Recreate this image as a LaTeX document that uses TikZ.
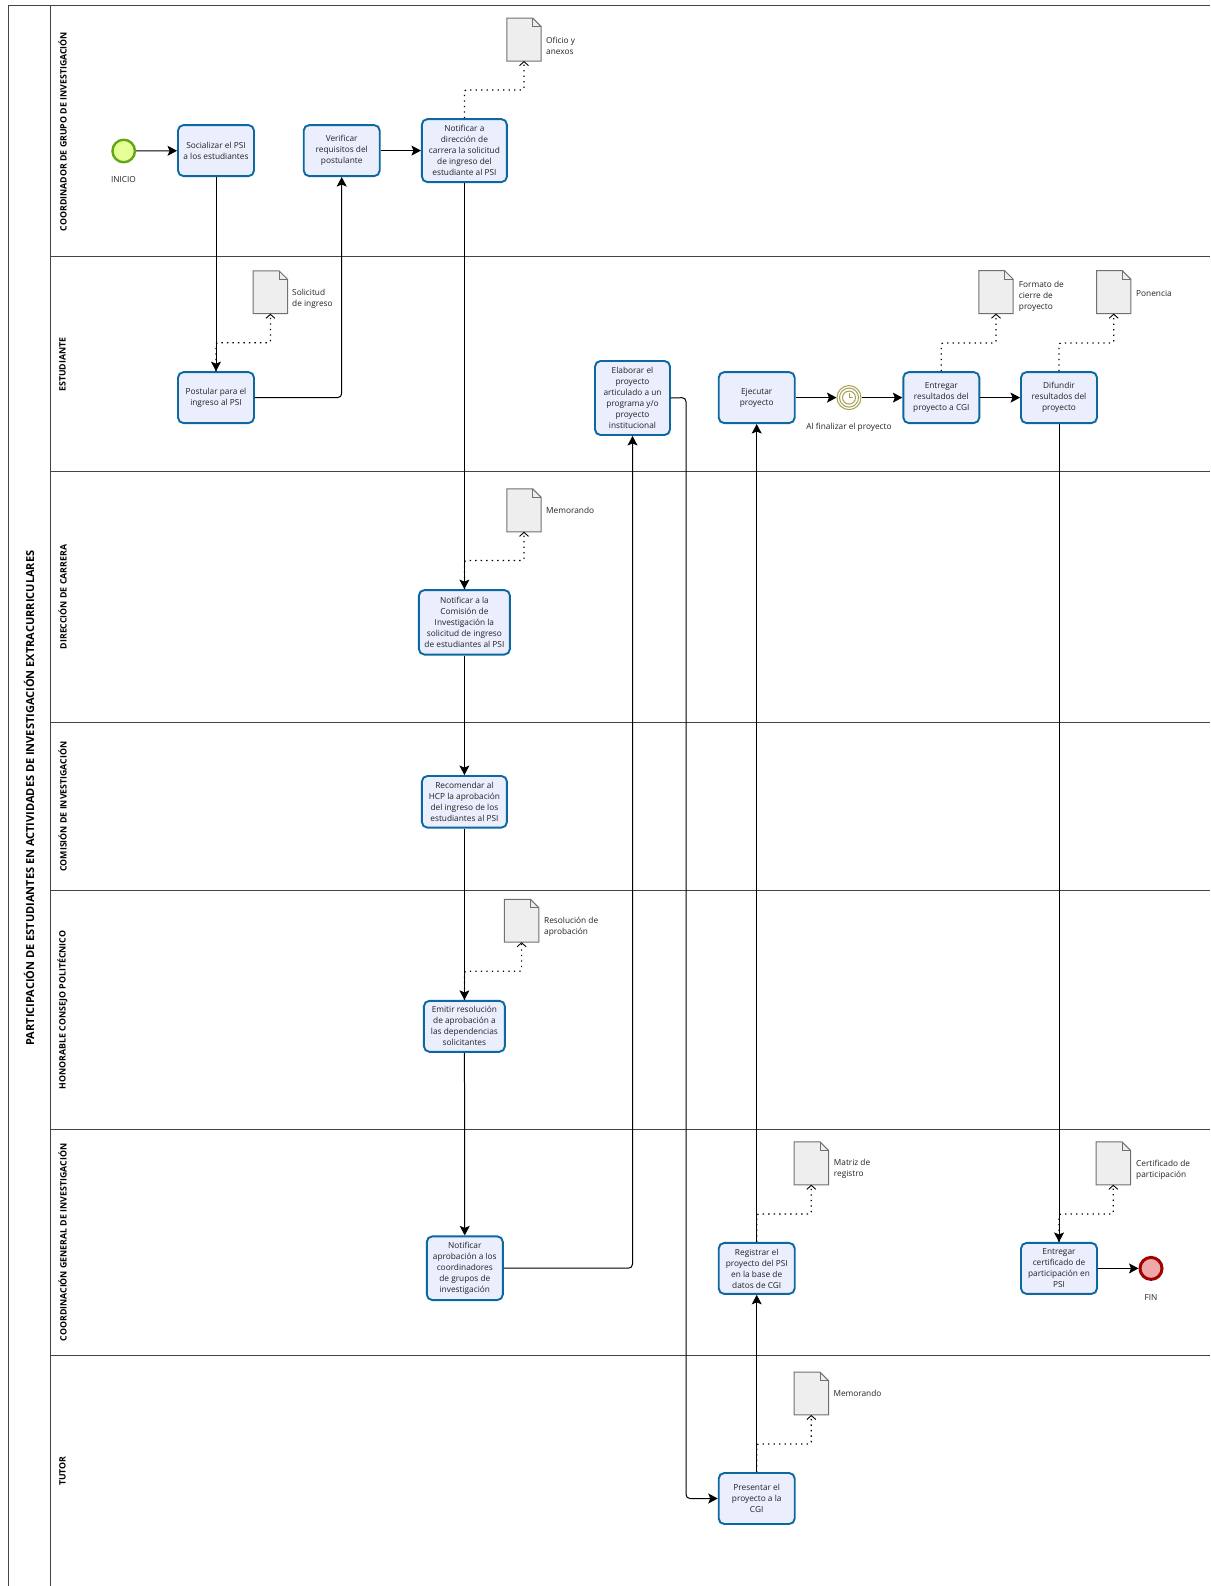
\documentclass[tikz,border=0pt]{standalone}
\usepackage{fontspec}
\setmainfont{Open Sans}
\usetikzlibrary{arrows.meta,calc}
\definecolor{taskfill}{HTML}{EAEEFD}
\definecolor{taskline}{HTML}{0B68A0}
\definecolor{lanegrey}{HTML}{444444}
\definecolor{docfill}{HTML}{EEEEEE}
\definecolor{docline}{HTML}{707070}
\definecolor{txt}{HTML}{222222}
\definecolor{timerline}{HTML}{A79F52}
\tikzset{
  task/.style={draw=taskline,fill=taskfill,line width=1.9pt,rounded corners=5.5pt,inner sep=0pt,align=center,font=\fontsize{8.3}{11}\selectfont,text=txt},
  std/.style={task,minimum width=76,minimum height=51,execute at begin node={\vspace*{1.4pt}}},
  lab/.style={inner sep=0pt,align=left,anchor=west,font=\fontsize{8.3}{11}\selectfont,text=txt},
  caplab/.style={inner sep=0pt,align=center,font=\fontsize{8.3}{11}\selectfont,text=txt},
  lanelab/.style={inner sep=0pt,rotate=90,font=\bfseries\fontsize{8.8}{10}\selectfont,text=black},
  lane/.style={draw=lanegrey,line width=1pt},
  flow/.style={draw=black,line width=1pt,rounded corners=4pt,-{Stealth[length=9.5pt,width=10pt,inset=2pt]}},
  assoc/.style={draw=black,line width=1.2pt,rounded corners=2pt,dash pattern=on 1.3pt off 4.2pt,-{Straight Barb[length=4pt,width=9pt,line width=0.9pt]}},
  docnode/.style={minimum width=34,minimum height=42.5,inner sep=0pt},
}
\newcommand{\docbody}[1]{%
  \draw[draw=docline,fill=docfill,line width=1pt] (#1.south west) -- (#1.north west) -- ($(#1.north east)+(-8.5,0)$) -- ($(#1.north east)+(0,8.5)$) -- (#1.south east) -- cycle;
  \draw[draw=docline,line width=0.8pt] ($(#1.north east)+(-8.5,0)$) -- ($(#1.north east)+(-8.5,8.5)$) -- ($(#1.north east)+(0,8.5)$);}
\begin{document}
\begin{tikzpicture}[x=1pt,y=-1pt]
\useasboundingbox (0,0) rectangle (1210,1586);
% pool and lanes
\draw[lane] (1210,5.5) -- (8,5.5) -- (8,1586);
\draw[lane] (50.6,5.5) -- (50.6,1586);
\foreach \yy in {257,471,722.5,890.5,1129,1355.7} \draw[lane] (50.6,\yy) -- (1210,\yy);
\node[lanelab,font=\bfseries\fontsize{11}{13}\selectfont] (title) at (29,798) {PARTICIPACIÓN DE ESTUDIANTES EN ACTIVIDADES DE INVESTIGACIÓN EXTRACURRICULARES};
\node[lanelab] (l1) at (62.5,131.5) {COORDINADOR DE GRUPO DE INVESTIGACIÓN};
\node[lanelab] (l2) at (62.5,364.5) {ESTUDIANTE};
\node[lanelab] (l3) at (62.5,597) {DIRECCIÓN DE CARRERA};
\node[lanelab] (l4) at (62.5,806.5) {COMISIÓN DE INVESTIGACIÓN};
\node[lanelab] (l5) at (62.5,1010) {HONORABLE CONSEJO POLITÉCNICO};
\node[lanelab] (l6) at (62.5,1242.5) {COORDINACIÓN GENERAL DE INVESTIGACIÓN};
\node[lanelab] (l7) at (62.5,1471) {TUTOR};
% events
\node[circle,draw={rgb,255:red,98;green,167;blue,22},fill={rgb,255:red,230;green,255;blue,151},line width=2.4pt,minimum size=22.5,inner sep=0pt] (start) at (123.7,151) {};
\node[caplab] (startl) at (123.5,180) {INICIO};
\node[circle,draw={rgb,255:red,163;green,0;blue,0},fill={rgb,255:red,238;green,168;blue,168},line width=3pt,minimum size=22,inner sep=0pt] (fin) at (1151,1268.4) {};
\node[caplab] (finl) at (1151,1298) {FIN};
\node[circle,draw=timerline,fill=white,line width=1pt,minimum size=24,inner sep=0pt] (tim) at (849,397.6) {};
\draw[timerline,line width=1pt] (tim.center) circle (9.5);
\draw[timerline,line width=1pt] (tim.center) circle (6.5);
\draw[timerline,line width=0.9pt] ($(tim.center)+(0,-4.5)$) -- (tim.center) -- ($(tim.center)+(3.5,0)$);
\node[caplab] (timl) at (849,427) {Al finalizar el proyecto};
% tasks
\node[std] (soc) at (216,150.6) {Socializar el PSI\\a los estudiantes};
\node[std] (ver) at (341.7,150.6) {Verificar\\requisitos del\\postulante};
\node[task,minimum width=85,minimum height=63] (nota) at (464.4,150.6) {Notificar a\\dirección de\\carrera la solicitud\\de ingreso del\\estudiante al PSI};
\node[std] (pos) at (216,397.6) {Postular para el\\ingreso al PSI};
\node[task,minimum width=75,minimum height=74] (ela) at (632.5,398) {Elaborar el\\proyecto\\articulado a un\\programa y/o\\proyecto\\institucional};
\node[std] (eje) at (756.7,397.6) {Ejecutar\\proyecto};
\node[std] (ent) at (941.3,397.6) {Entregar\\resultados del\\proyecto a CGI};
\node[std] (dif) at (1059,397.6) {Difundir\\resultados del\\proyecto};
\node[task,minimum width=91,minimum height=64.5] (noc) at (464.4,622.3) {Notificar a la\\Comisión de\\Investigación la\\solicitud de ingreso\\de estudiantes al PSI};
\node[task,minimum width=85,minimum height=51.6] (rec) at (464.4,801.8) {Recomendar al\\HCP la aprobación\\del ingreso de los\\estudiantes al PSI};
\node[task,minimum width=81,minimum height=51] (emi) at (464.4,1026.3) {Emitir resolución\\de aprobación a\\las dependencias\\solicitantes};
\node[task,minimum width=76,minimum height=63.7] (nap) at (464.8,1268.2) {Notificar\\aprobación a los\\coordinadores\\de grupos de\\investigación};
\node[std] (reg) at (756.7,1268.4) {Registrar el\\proyecto del PSI\\en la base de\\datos de CGI};
\node[std] (cer) at (1059,1268.4) {Entregar\\certificado de\\participación en\\PSI};
\node[std] (pre) at (756.7,1498.5) {Presentar el\\proyecto a la\\CGI};
% documents
\node[docnode] (d1) at (524,39.6) {};
\node[docnode] (d2) at (270.4,292.3) {};
\node[docnode] (d3) at (524,510.3) {};
\node[docnode] (d4) at (521.6,920.7) {};
\node[docnode] (d5) at (996,292.2) {};
\node[docnode] (d6) at (1113.7,292.2) {};
\node[docnode] (d7) at (811.3,1163.3) {};
\node[docnode] (d8) at (1113.3,1163.3) {};
\node[docnode] (d9) at (811.3,1393.5) {};
\foreach \dd in {d1,d2,d3,d4,d5,d6,d7,d8,d9} {\docbody{\dd}}
\node[lab] (t1) at (546,45.5) {Oficio y\\anexos};
\node[lab] (t2) at (292,298.5) {Solicitud\\de ingreso};
\node[lab] (t3) at (546,510) {Memorando};
\node[lab] (t4) at (544,927) {Resolución de\\aprobación};
\node[lab] (t5) at (1018.7,296) {Formato de\\cierre de\\proyecto};
\node[lab] (t6) at (1136,293.3) {Ponencia};
\node[lab] (t7) at (833.7,1169) {Matriz de\\registro};
\node[lab] (t8) at (1136,1170) {Certificado de\\participación};
\node[lab] (t9) at (833.3,1393.2) {Memorando};
% bends
\coordinate (b1) at (490,90);
\coordinate (b2) at (240,342.7);
\coordinate (b3) at (490,560.5);
\coordinate (b4) at (490,971.3);
\coordinate (b5) at (970,343);
\coordinate (b6) at (1085,343);
\coordinate (b7) at (780,1214);
\coordinate (b8) at (1085,1214);
\coordinate (b9) at (780,1444);
\coordinate (cx) at (686,397.6);
% associations
\draw[assoc] (nota.north) |- (b1) -| (d1.south);
\draw[assoc] (pos.north) |- (b2) -| (d2.south);
\draw[assoc] (noc.north) |- (b3) -| (d3.south);
\draw[assoc] (emi.north) |- (b4) -| (d4.south);
\draw[assoc] (ent.north) |- (b5) -| (d5.south);
\draw[assoc] (dif.north) |- (b6) -| (d6.south);
\draw[assoc] (reg.north) |- (b7) -| (d7.south);
\draw[assoc] (cer.north) |- (b8) -| (d8.south);
\draw[assoc] (pre.north) |- (b9) -| (d9.south);
% flows
\draw[flow] (start) -- (soc);
\draw[flow] (soc) -- (pos);
\draw[flow] (pos.east) -| (ver.south);
\draw[flow] (ver) -- (nota);
\draw[flow] (nota) -- (noc);
\draw[flow] (noc) -- (rec);
\draw[flow] (rec) -- (emi);
\draw[flow] (emi) -- (nap);
\draw[flow] (nap.east) -| (ela.south);
\draw[flow] (ela.east) -- (cx) |- (pre.west);
\draw[flow] (pre) -- (reg);
\draw[flow] (reg) -- (eje);
\draw[flow] (eje) -- (tim);
\draw[flow] (tim) -- (ent);
\draw[flow] (ent) -- (dif);
\draw[flow] (dif) -- (cer);
\draw[flow] (cer) -- (fin);
\end{tikzpicture}
\end{document}
